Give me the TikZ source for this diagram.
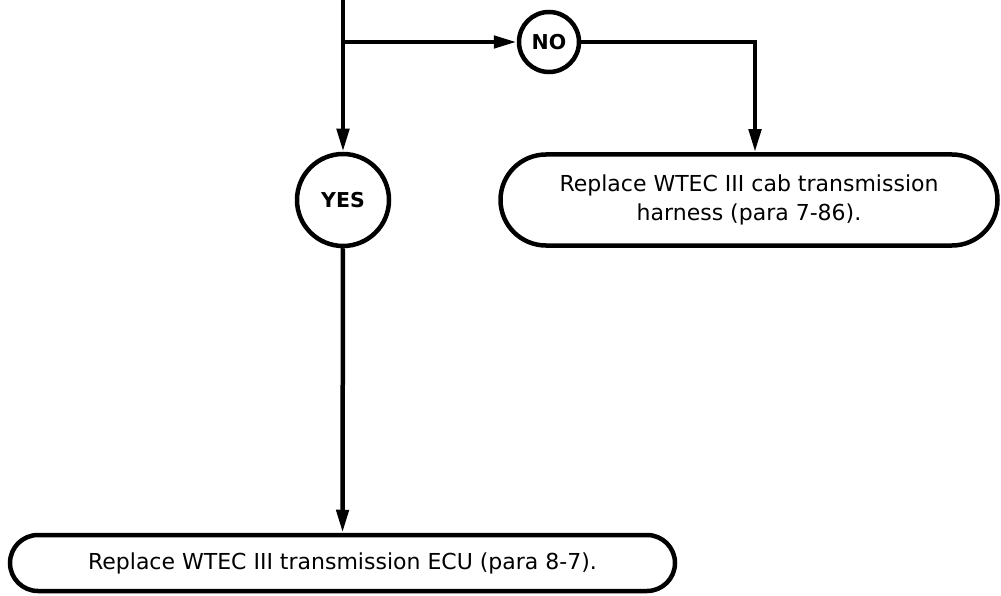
\documentclass[tikz,border=0pt]{standalone}
\usepackage{fontspec}
\setmainfont{DejaVu Sans}
\usetikzlibrary{arrows.meta}
\begin{document}
\begin{tikzpicture}[x=1pt,y=-1pt,
  line width=4.5pt,
  flow/.style={-{Triangle[length=23pt,width=12pt]}},
  answer/.style={draw,circle,inner sep=0pt,font=\fontsize{20.5}{22}\selectfont\bfseries},
  action/.style={draw,rectangle,align=center,inner sep=0pt,
    font=\fontsize{22}{28.5}\selectfont}]
\useasboundingbox (0,0) rectangle (1001,596);

% decision outcomes
\node[answer,minimum size=60pt] (no) at (549,42) {NO};
\node[answer,minimum size=92pt] (yes) at (343,200) {YES};

% actions
\node[action,minimum width=497pt,minimum height=91pt,rounded corners=45.5pt]
  (harness) at (749,200) {Replace WTEC III cab transmission\\harness (para 7-86).};
\node[action,minimum width=665pt,minimum height=56pt,rounded corners=28pt]
  (ecu) at (342.5,563) {Replace WTEC III transmission ECU (para 8-7).};

% connectors
\coordinate (top) at (343,0);
\coordinate (branch) at (343,42);
\coordinate (turn) at (755,42);
\draw[flow] (top) -- (yes);
\draw[flow] (branch) -- (no);
\draw[flow,line join=miter] (no) -- (turn) -- (turn |- harness.north);
\draw[flow] (yes) -- (ecu);
\end{tikzpicture}
\end{document}
